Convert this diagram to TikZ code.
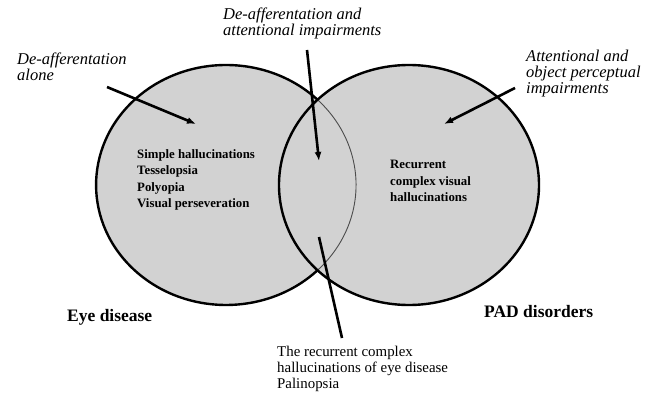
\documentclass[tikz,border=0pt]{standalone}
\usepackage{fontspec}
\setmainfont{Liberation Serif}
\usetikzlibrary{arrows.meta}
\tikzset{
	venn/.style={fill=gray!35},
	rim/.style={line width=2.4pt},
	seam/.style={line width=0.9pt, gray!60!black},
	ptr/.style={line width=2.6pt, -{Latex[length=9pt,width=7pt]}},
	stick/.style={line width=2.6pt},
	slant/.style={font=\fontsize{16.5}{16}\selectfont\itshape, align=left, inner sep=0pt, anchor=north west},
	inlist/.style={font=\fontsize{12.8}{16.5}\selectfont\bfseries, align=left, inner sep=0pt, anchor=north west},
	setname/.style={font=\fontsize{17.5}{20}\selectfont\bfseries, inner sep=0pt, anchor=north west},
	plain/.style={font=\fontsize{14.9}{16}\selectfont, align=left, inner sep=0pt, anchor=north west}
}

\begin{document}
\begin{tikzpicture}[x=1pt,y=-1pt]
			\useasboundingbox (0,0) rectangle (658,393);
			% the two sets
			\coordinate (eye) at (226,185);
			\coordinate (pad) at (409,185);
			\coordinate (top) at (317.5,99.7);
			\fill[venn] (eye) ellipse [x radius=130, y radius=120];
			\fill[venn] (pad) ellipse [x radius=130, y radius=120];
			\draw[seam] (top) arc [start angle=-45.3, end angle=45.3, x radius=130, y radius=120];
			\draw[rim] (pad) ellipse [x radius=130, y radius=120];
			\draw[rim] (top) arc [start angle=-45.3, end angle=-314.7, x radius=130, y radius=120];
			% labels
			\node[slant] (alone) at (17,53) {De-afferentation\\alone};
			\node[slant] (both) at (223,8) {De-afferentation and\\attentional impairments};
			\node[slant] (attn) at (526,50) {Attentional and\\object perceptual\\impairments};
			\node[inlist] (simple) at (137,149) {Simple hallucinations\\Tesselopsia\\Polyopia\\Visual perseveration};
			\node[inlist] (recur) at (390,160) {Recurrent\\complex visual\\hallucinations};
			\node[setname] (eyename) at (67,309) {Eye disease};
			\node[setname] (padname) at (484,305) {PAD disorders};
			\node[plain] (eyepal) at (277,346) {The recurrent complex\\hallucinations of eye disease\\Palinopsia};
			% pointers
			\coordinate (t1) at (107,87);
			\coordinate (h1) at (196,124);
			\coordinate (t2) at (307,50);
			\coordinate (h2) at (319,161);
			\coordinate (t3) at (515,88);
			\coordinate (h3) at (444,124);
			\coordinate (t4) at (319,237);
			\coordinate (h4) at (342,338);
			\path[ptr] (t1) edge (h1) (t2) edge (h2) (t3) edge (h3);
			\path[stick] (t4) edge (h4);
		\end{tikzpicture}
\end{document}
